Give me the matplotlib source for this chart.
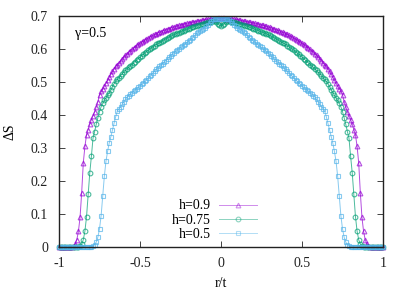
import matplotlib
matplotlib.use('Agg')

import numpy as np
import matplotlib.pyplot as plt
from matplotlib.ticker import FormatStrFormatter

# r/t grid for the right half (curves are mirror symmetric about r/t = 0)
r_half = np.round(np.arange(0, 101) * 0.01, 2)

# Delta S, r/t = 0.00 ... 1.00
ds_h09 = [0.693, 0.693, 0.693, 0.692, 0.692, 0.692, 0.691, 0.691, 0.690, 0.690,
          0.689, 0.688, 0.687, 0.686, 0.685, 0.684, 0.683, 0.682, 0.681, 0.680,
          0.679, 0.678, 0.677, 0.676, 0.674, 0.673, 0.672, 0.670, 0.669, 0.667,
          0.666, 0.664, 0.662, 0.661, 0.659, 0.657, 0.655, 0.653, 0.651, 0.649,
          0.646, 0.644, 0.641, 0.639, 0.636, 0.633, 0.630, 0.627, 0.624, 0.621,
          0.618, 0.614, 0.611, 0.607, 0.603, 0.599, 0.595, 0.590, 0.586, 0.581,
          0.576, 0.571, 0.565, 0.559, 0.553, 0.547, 0.540, 0.532, 0.524, 0.515,
          0.505, 0.496, 0.488, 0.480, 0.472, 0.462, 0.440, 0.425, 0.410, 0.398,
          0.386, 0.372, 0.356, 0.340, 0.305, 0.255, 0.165, 0.090, 0.048, 0.022,
          0.009, 0.003, 0.001] + [0.0] * 8

ds_h075 = [0.670, 0.672, 0.677, 0.682, 0.684, 0.684, 0.683, 0.682, 0.681, 0.680,
           0.679, 0.677, 0.676, 0.674, 0.673, 0.671, 0.670, 0.668, 0.666, 0.664,
           0.662, 0.660, 0.658, 0.656, 0.654, 0.652, 0.650, 0.648, 0.646, 0.644,
           0.641, 0.639, 0.636, 0.634, 0.631, 0.628, 0.625, 0.622, 0.619, 0.617,
           0.614, 0.610, 0.607, 0.603, 0.600, 0.596, 0.592, 0.588, 0.584, 0.580,
           0.575, 0.571, 0.567, 0.562, 0.558, 0.553, 0.549, 0.544, 0.540, 0.535,
           0.530, 0.525, 0.519, 0.513, 0.508, 0.502, 0.495, 0.486, 0.476, 0.468,
           0.460, 0.452, 0.444, 0.435, 0.425, 0.410, 0.392, 0.372, 0.350, 0.330,
           0.275, 0.225, 0.160, 0.092, 0.048, 0.022, 0.009, 0.003, 0.001] + [0.0] * 12

ds_h05 = [0.690, 0.690, 0.691, 0.692, 0.692, 0.690, 0.686, 0.680, 0.673, 0.669,
          0.665, 0.662, 0.659, 0.655, 0.651, 0.647, 0.642, 0.637, 0.632, 0.628,
          0.624, 0.620, 0.616, 0.612, 0.608, 0.605, 0.601, 0.597, 0.593, 0.589,
          0.585, 0.580, 0.575, 0.570, 0.565, 0.561, 0.556, 0.552, 0.547, 0.543,
          0.538, 0.533, 0.528, 0.522, 0.517, 0.512, 0.507, 0.502, 0.497, 0.493,
          0.488, 0.484, 0.480, 0.476, 0.472, 0.468, 0.464, 0.459, 0.454, 0.447,
          0.440, 0.432, 0.425, 0.419, 0.412, 0.395, 0.375, 0.355, 0.334, 0.315,
          0.290, 0.260, 0.215, 0.155, 0.095, 0.055, 0.030, 0.015, 0.007, 0.003,
          0.001] + [0.0] * 20

labels = ['h=0.9', 'h=0.75', 'h=0.5']
colors = ['#9400D3', '#009E73', '#56B4E9']
markers = ['^', 'o', 's']


def mirror(v):
    v = np.asarray(v)
    return np.concatenate([v[:0:-1], v])


r = np.concatenate([-r_half[:0:-1], r_half])

plt.rcParams['font.family'] = ['Liberation Serif', 'DejaVu Serif']
plt.rcParams['font.size'] = 10
plt.rcParams['axes.unicode_minus'] = False

fig = plt.figure(figsize=(4.15, 2.91), dpi=100)
ax = fig.add_axes([59 / 415, 44 / 291, 324 / 415, 231 / 291])

for ds, lab, c, m in zip([ds_h09, ds_h075, ds_h05], labels, colors, markers):
    ax.plot(r, mirror(ds), color=c, marker=m, markersize=3.4, markerfacecolor='none',
            markeredgewidth=0.8, lw=0.7, alpha=0.7, label=lab, clip_on=False)

ax.set_xlim(-1, 1)
ax.set_ylim(0, 0.7)
ax.set_xticks([-1, -0.5, 0, 0.5, 1])
ax.set_yticks(np.arange(0, 0.71, 0.1))
ax.xaxis.set_major_formatter(FormatStrFormatter('%g'))
ax.yaxis.set_major_formatter(FormatStrFormatter('%g'))
ax.tick_params(direction='in', top=True, right=True, length=4, width=0.6,
               colors='#222222')
ax.tick_params(axis='x', pad=7)
ax.tick_params(axis='y', pad=8)
for s in ax.spines.values():
    s.set_linewidth(1.0)
    s.set_color('#222222')

ax.set_xlabel('r/t')
ax.set_ylabel('ΔS')
ax.xaxis.set_label_coords(0.5, -0.13)
ax.yaxis.set_label_coords(-0.13, 0.5)

ax.text(0.05, 0.925, 'γ=0.5', transform=ax.transAxes, va='center', ha='left')

leg = ax.legend(loc='center', bbox_to_anchor=(0.517, 0.243), bbox_transform=fig.transFigure,
                frameon=False, markerfirst=False, handlelength=2.7, handletextpad=0.6,
                labelspacing=0.1, borderpad=0, numpoints=1)
for h in leg.legend_handles:
    h.set_alpha(0.45)

fig.savefig('out.png', dpi=100)
